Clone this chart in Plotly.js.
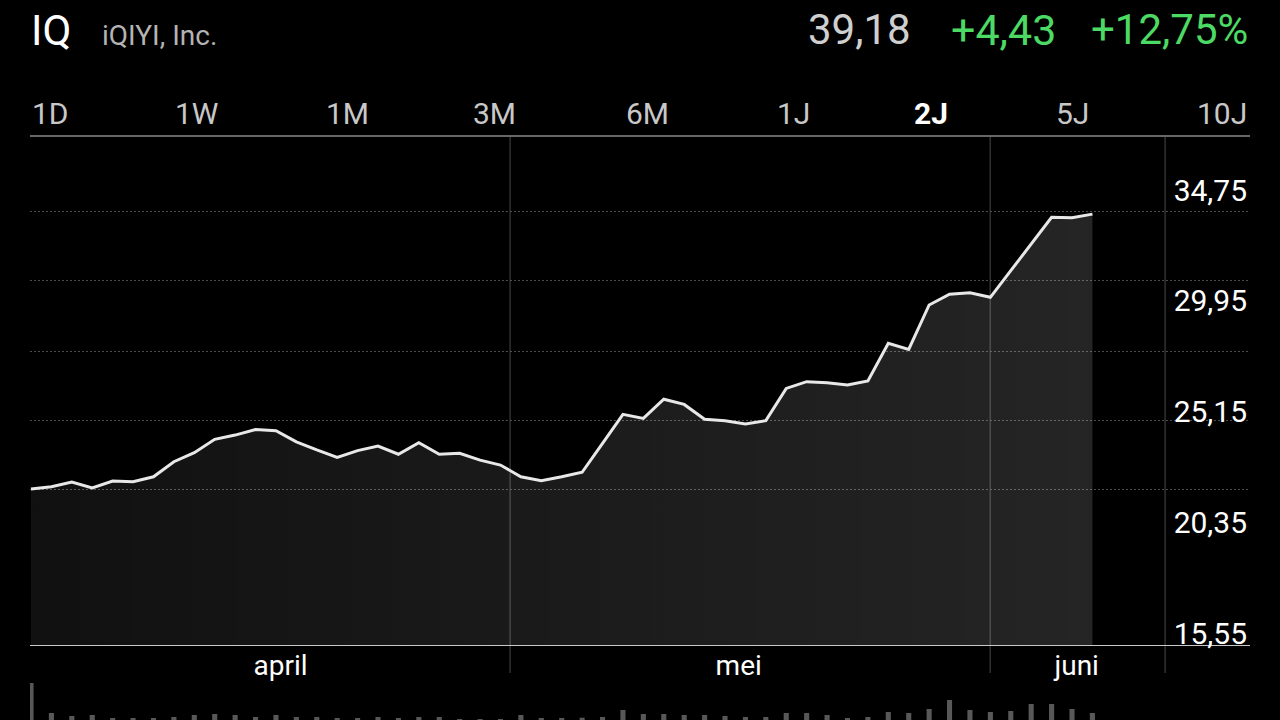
<!DOCTYPE html>
<html><head><meta charset="utf-8">
<script src="https://cdn.plot.ly/plotly-3.0.1.min.js"></script>
<style>html,body{margin:0;padding:0;background:#000;overflow:hidden}#chart{width:1280px;height:720px}</style>
</head><body><div id="chart"></div>
<script>
// ---- data ----
const ticker = 'IQ';
const company = 'iQIYI, Inc.';
const lastPrice = '39,18';
const changeAbs = '+4,43';
const changePct = '+12,75%';
const rangeTabs = ['1D','1W','1M','3M','6M','1J','2J','5J','10J'];
const activeTab = '2J';
const prices = [22.47,22.57,22.78,22.52,22.82,22.79,23.01,23.68,24.08,24.67,
                24.86,25.11,25.05,24.56,24.20,23.87,24.17,24.37,24.01,24.52,
                24.01,24.05,23.75,23.53,23.01,22.84,23.01,23.21,24.49,25.78,
                25.60,26.45,26.22,25.56,25.50,25.35,25.50,26.93,27.23,27.18,
                27.08,27.26,28.93,28.66,30.63,31.11,31.17,30.97,32.15,33.33,
                34.52,34.50,34.66];
const volumes = [37,7,4,5,2,2,2,3,5,6,
                 5,3,5,3,3,2,2,3,2,3,
                 3,1,1,1,5,2,2,2.3,3,10,
                 6,6,5,5,4,3,3,7,7,5,
                 2,3,8,7,11,20,10,8,9,16,
                 16,11,7];
const priceLabels = [15.55, 20.35, 25.15, 29.95, 34.75];
const gridLevels = [22.45, 25.50, 28.56, 31.71, 34.79];
const months = ['april', 'mei', 'juni'];

// ---- layout positions (index units / paper) ----
const monthLabelPos = [12.23, 34.67, 51.23];
const monthBounds = [23.47, 46.99, 55.56];
const tabCenters = [50, 196, 347, 494.5, 647, 793, 930.5, 1072, 1222];

const idx = prices.map((_, i) => i);
const W = 1280, H = 720, L = 30, R = 30;
const px = x => (x - L) / (W - L - R);
const py = y => 1 - y / H;
const FONT = 'Roboto, "Noto Sans", sans-serif';
const green = '#4cd964';

const traces = [
  {
    x: idx, y: prices, type: 'scatter', mode: 'lines',
    line: {color: '#e8e8e8', width: 3},
    fill: 'tozeroy',
    fillgradient: {type: 'horizontal', colorscale: [[0, 'rgba(255,255,255,0.065)'], [1, 'rgba(255,255,255,0.145)']]},
    xaxis: 'x', yaxis: 'y', hoverinfo: 'skip'
  },
  {
    x: idx, y: volumes, type: 'bar', width: 0.25,
    marker: {color: '#585858', line: {width: 0}},
    xaxis: 'x', yaxis: 'y3', hoverinfo: 'skip'
  },
  // carrier so the right-hand price-label axis is drawn (invisible)
  {
    x: idx, y: prices, type: 'scatter', mode: 'lines',
    line: {width: 0, color: 'rgba(0,0,0,0)'}, opacity: 0,
    xaxis: 'x', yaxis: 'y2', hoverinfo: 'skip'
  }
];

const annotations = [
  {text: ticker, x: px(29), y: py(31), xanchor: 'left', yanchor: 'middle', font: {family: FONT, size: 42, color: '#ffffff'}},
  {text: company, x: px(100), y: py(35), xanchor: 'left', yanchor: 'middle', font: {family: FONT, size: 28, color: '#b4b4b4'}},
  {text: lastPrice, x: px(913), y: py(30), xanchor: 'right', yanchor: 'middle', font: {family: FONT, size: 42, color: '#cfcfcf'}},
  {text: changeAbs, x: px(1058), y: py(30), xanchor: 'right', yanchor: 'middle', font: {family: FONT, size: 43, color: green}},
  {text: changePct, x: px(1250), y: py(30), xanchor: 'right', yanchor: 'middle', font: {family: FONT, size: 42, color: green}}
];
rangeTabs.forEach((t, i) => {
  const active = t === activeTab;
  annotations.push({
    text: active ? '<b>' + t + '</b>' : t,
    x: px(tabCenters[i]), y: py(113), xanchor: 'center', yanchor: 'middle',
    font: {family: FONT, size: 30, color: active ? '#ffffff' : '#c8c8c8'}
  });
});
annotations.forEach(a => { a.xref = 'paper'; a.yref = 'paper'; a.showarrow = false; });

const shapes = [
  {type: 'line', xref: 'paper', yref: 'paper', x0: 0, x1: 1, y0: py(136), y1: py(136), line: {color: '#8a8a8a', width: 1.5}}
];
monthBounds.forEach(b => shapes.push({
  type: 'line', xref: 'x', yref: 'paper', x0: b, x1: b, y0: py(673), y1: py(137),
  line: {color: '#4a4a4a', width: 1}, layer: 'below'
}));

const layout = {
  width: W, height: H,
  paper_bgcolor: '#000', plot_bgcolor: '#000',
  margin: {l: L, r: R, t: 0, b: 0, pad: 0},
  showlegend: false,
  font: {family: FONT, color: '#fff'},
  xaxis: {
    range: [-0.049, 59.72], anchor: 'y',
    tickvals: monthLabelPos, ticktext: months, ticks: '',
    tickfont: {family: FONT, size: 28, color: '#ffffff'},
    ticklabelstandoff: -5,
    showgrid: false, zeroline: false,
    showline: true, linecolor: '#c8c8c8', linewidth: 1
  },
  yaxis: {
    domain: [py(645), py(137)], range: [15.55, 38.08],
    tickvals: gridLevels, showticklabels: false, ticks: '',
    showgrid: true, gridcolor: '#4d4d4d', gridwidth: 1, griddash: '2px,2px',
    zeroline: false, showline: false
  },
  yaxis2: {
    overlaying: 'y', anchor: 'x', side: 'right', range: [15.03, 37.05],
    tickvals: priceLabels, ticktext: priceLabels.map(v => v.toFixed(2).replace('.', ',')),
    ticklabelposition: 'inside', ticklabeloverflow: 'allow', ticks: '',
    tickfont: {family: FONT, size: 30, color: '#ffffff'},
    showgrid: false, zeroline: false, showline: false
  },
  yaxis3: {
    domain: [0, py(675)], range: [0, 45], anchor: 'x',
    visible: false, fixedrange: true
  },
  shapes: shapes,
  annotations: annotations
};

Plotly.newPlot('chart', traces, layout, {displayModeBar: false, staticPlot: true});
</script></body></html>
